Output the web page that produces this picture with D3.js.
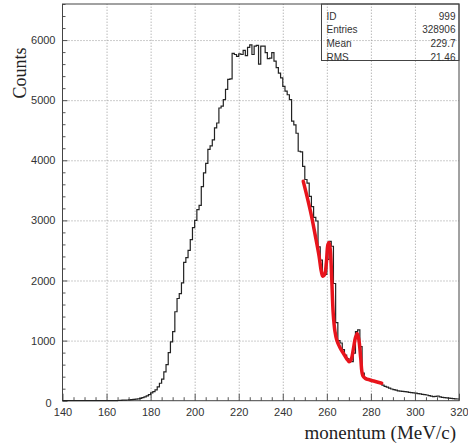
<!DOCTYPE html>
<html>
<head>
<meta charset="utf-8">
<style>
  body { margin: 0; background: #fff; }
  svg { display: block; }
  .tick text { font-family: "Liberation Sans", Arial, sans-serif; font-size: 11px; fill: #333; }
</style>
</head>
<body>
<svg></svg>
<script src="https://cdnjs.cloudflare.com/ajax/libs/d3/7.8.5/d3.min.js"></script>
<script>
// histogram: 1 MeV/c bins starting at 140
const binStart = 140
const binWidth = 1
const counts = [
  0,0,0,0,0,0,0,0,0,0, 0,0,0,0,0,0,0,0,0,0, 0,0,0,0,0,          // 140-164
  3,5,8,10,12,15,18,22,25,30,                                  // 165-174
  40,50,65,80,100,130,150,180,230,290,                         // 175-184
  360,480,600,800,980,1150,1480,1700,1780,1960,                // 185-194
  2300,2380,2500,2680,2880,3000,3180,3250,3560,3790,           // 195-204
  3950,4180,4240,4340,4540,4620,4870,4900,5010,5180,           // 205-214
  5345,5355,5780,5760,5730,5770,5760,5830,5740,5880,           // 215-224
  5920,5760,5900,5910,5600,5900,5900,5790,5690,5700,           // 225-234
  5790,5650,5540,5450,5370,5230,5150,5090,5010,4650,           // 235-244
  4590,4450,4150,4140,3900,3680,3620,3400,3230,3050,           // 245-254
  2990,2560,2340,2100,2100,2350,2650,2570,1950,1300,           // 255-264
  1000,960,850,760,700,650,650,790,1150,1180,                  // 265-274
  900,460,380,360,345,335,320,310,300,290,                     // 275-284
  260,240,225,210,195,185,175,165,160,155,                     // 285-294
  150,148,140,135,130,125,118,112,105,100,                     // 295-304
  95,85,75,68,72,78,62,55,50,48,                               // 305-314
  42,40,35,30,28                                               // 315-319
]

// fitted curve
const fitX = [249.3,251,253,255,256.5,257.5,258.2,259,259.8,260.5,261,261.6,262.2,262.9,263.7,264.5,266,267.5,269,270.1,271,272,273,273.8,274.6,275.4,276.3,277.5,279.6,282,284.9]
const fitY = [3650,3400,3080,2700,2400,2150,2070,2100,2300,2600,2630,2500,2050,1450,1150,1010,880,790,700,650,680,850,1050,1120,1000,700,420,370,345,320,290]

const statLabels = ['ID', 'Entries', 'Mean', 'RMS']
const statValues = ['999', '328906', '229.7', '21.46']

const xMajor = [140,160,180,200,220,240,260,280,300,320]
const yMajor = [0,1000,2000,3000,4000,5000,6000]

const W = 468, H = 444
const margin = { top: 4, left: 62.5, right: 9, bottom: 43.3 }
const width = W - margin.left - margin.right
const height = H - margin.top - margin.bottom

const svg = d3.select('svg').attr('width', W).attr('height', H)
const g = svg.append('g').attr('transform', `translate(${margin.left},${margin.top})`)

const x = d3.scaleLinear().domain([140, 320]).range([0, width])
const y = d3.scaleLinear().domain([0, 6600]).range([height, 0])

// grid
const grid = g.append('g')
grid.append('g')
  .attr('transform', `translate(0,${height})`)
  .call(d3.axisBottom(x).tickValues(xMajor.slice(1, -1)).tickSize(-height).tickFormat(''))
grid.append('g')
  .call(d3.axisLeft(y).tickValues(yMajor.slice(1)).tickSize(-width).tickFormat(''))
grid.selectAll('.domain').remove()
grid.selectAll('line').attr('stroke', '#999').attr('stroke-dasharray', '1,2')

// minor ticks
const xMinor = d3.range(140, 321, 5).filter(v => v % 20 !== 0)
const yMinor = d3.range(0, 6601, 200).filter(v => v % 1000 !== 0)
g.append('g').attr('transform', `translate(0,${height})`)
  .call(d3.axisBottom(x).tickValues(xMinor).tickSize(-3.5).tickFormat(''))
  .call(a => a.select('.domain').remove())
g.append('g')
  .call(d3.axisLeft(y).tickValues(yMinor).tickSize(-3).tickFormat(''))
  .call(a => a.select('.domain').remove())

// major axes
const xAxis = g.append('g').attr('transform', `translate(0,${height})`)
  .call(d3.axisBottom(x).tickValues(xMajor).tickSize(-7).tickPadding(8).tickFormat(d3.format('d')))
const yAxis = g.append('g')
  .call(d3.axisLeft(y).tickValues(yMajor).tickSize(-5).tickPadding(7).tickFormat(d3.format('d')))
yAxis.selectAll('.tick').filter(d => d === 0).select('text').attr('x', -11).attr('dy', '0.5em')
g.selectAll('.domain').remove()
g.selectAll('.tick line').filter(function () { return this.getAttribute('stroke-dasharray') == null })
  .attr('stroke', '#555')

// frame
g.append('rect').attr('width', width).attr('height', height)
  .attr('fill', 'none').attr('stroke', '#444').attr('stroke-width', 1)

// histogram outline
const pts = counts.map((c, i) => [binStart + i * binWidth, c])
pts.push([binStart + counts.length * binWidth, counts[counts.length - 1]])
g.append('path')
  .attr('d', d3.line().x(d => x(d[0])).y(d => y(d[1])).curve(d3.curveStepAfter)(pts))
  .attr('fill', 'none').attr('stroke', '#222').attr('stroke-width', 1.2)

// fit
g.append('path')
  .attr('d', d3.line().x(d => x(d[0])).y(d => y(d[1])).curve(d3.curveCatmullRom.alpha(0.5))(fitX.map((v, i) => [v, fitY[i]])))
  .attr('fill', 'none').attr('stroke', '#e8141c').attr('stroke-width', 3.5)
  .attr('stroke-linejoin', 'round').attr('stroke-linecap', 'round')

// stats box
const box = g.append('g').attr('transform', `translate(${width - 137.5},0)`)
box.append('rect').attr('width', 137.5).attr('height', 56.5)
  .attr('fill', 'none').attr('stroke', '#444')
statLabels.forEach((s, i) => {
  const yy = 12 + i * 13.7
  box.append('text').attr('x', 5).attr('y', yy).attr('dy', '0.35em').text(s)
    .style('font-family', '"Liberation Sans", Arial, sans-serif').style('font-size', '10px').attr('fill', '#333')
  box.append('text').attr('x', 134).attr('y', yy).attr('dy', '0.35em').attr('text-anchor', 'end').text(statValues[i])
    .style('font-family', '"Liberation Sans", Arial, sans-serif').style('font-size', '10px').attr('fill', '#333')
})

// axis titles
svg.append('text')
  .attr('transform', 'translate(26,73) rotate(-90)')
  .attr('text-anchor', 'middle')
  .style('font-family', '"Liberation Serif", "Times New Roman", serif').style('font-size', '18px')
  .attr('fill', '#222')
  .text('Counts')
svg.append('text')
  .attr('x', 456).attr('y', 439)
  .attr('text-anchor', 'end')
  .style('font-family', '"Liberation Serif", "Times New Roman", serif').style('font-size', '19px')
  .attr('fill', '#222')
  .text('monentum (MeV/c)')
</script>
</body>
</html>
